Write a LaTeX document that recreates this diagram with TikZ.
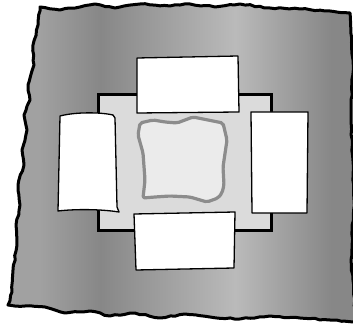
\documentclass[tikz,border=0pt]{standalone}
\usetikzlibrary{decorations.pathmorphing}

\definecolor{sheetLt}{gray}{0.63}
\definecolor{sheetDk}{gray}{0.53}
\definecolor{sheetHi}{gray}{0.73}
\definecolor{baseFill}{gray}{0.86}
\definecolor{coreFill}{gray}{0.92}
\definecolor{coreLine}{gray}{0.55}

% horizontal bands of the sheet (25bp..75bp spans the path)
\pgfdeclarehorizontalshading{sheetshade}{100bp}{%
  color(0bp)=(sheetLt); color(25bp)=(sheetLt); color(29.6bp)=(sheetLt);
  color(38.3bp)=(sheetDk); color(57.7bp)=(sheetHi); color(71.4bp)=(sheetDk);
  color(75bp)=(sheetDk); color(100bp)=(sheetDk)}

\begin{document}
\pgfmathsetseed{7}
\begin{tikzpicture}[
  x=1pt,y=-1pt,
  sheet/.style={draw=black,line width=3pt,shading=sheetshade,line join=round,
    decorate,decoration={random steps,segment length=5pt,amplitude=0.7pt}},
  base/.style={draw=black,line width=3pt,fill=baseFill},
  core/.style={draw=coreLine,line width=3.2pt,fill=coreFill,line join=round,rounded corners=2pt},
  panel/.style={draw=black,line width=1.3pt,fill=white,line join=round}
]
\useasboundingbox (0,0) rectangle (353,328);
\clip (0,0) rectangle (353,328);

% ---------- sheet ----------
\path[sheet] (40,7) -- (60,10) -- (80,7) -- (95,4) -- (115,8) -- (140,4) -- (170,6)
  -- (190,4) -- (215,7) -- (240,4) -- (270,8) -- (300,9) -- (330,11) -- (350,13)
  -- (353,60) -- (351,120) -- (354,200) -- (351,260) -- (356,322)
  -- (330,320) -- (300,318) -- (270,316) -- (240,319) -- (210,317) -- (185,314)
  -- (160,318) -- (135,313) -- (110,316) -- (90,311) -- (65,313) -- (45,307)
  -- (25,306) -- (8,305) -- (12,292) -- (13,270) -- (17,245) -- (16,225)
  -- (20,205) -- (18,185) -- (24,165) -- (22,150) -- (27,130) -- (24,115)
  -- (30,100) -- (28,85) -- (34,65) -- (33,45) -- (38,25) -- cycle;

% ---------- base and core ----------
\draw[base] (98,95) rectangle (271,231);
\draw[core] (140,123) -- (153,120) -- (165,122) -- (177,123) -- (193,117) -- (208,120)
  -- (223,123) -- (227,140) -- (223,167) -- (224,185) -- (222,193) -- (218,198)
  -- (207,202) -- (190,197) -- (170,196) -- (155,197) -- (143,198) -- (145,180)
  -- (143,153) -- (138,135) -- cycle;

% ---------- panels ----------
\draw[panel] (137,58) -- (238,56) -- (239,112) -- (137,113) -- cycle;
\draw[panel] (60,116) .. controls (75,112) and (100,112) .. (113,115)
  -- (115,118) -- (117,207) -- (119,212) .. controls (100,209) and (75,209) .. (58,211) -- cycle;
\draw[panel] (251,112) -- (308,112) -- (307,213) -- (252,213) -- cycle;
\draw[panel] (134,214) -- (235,212) -- (234,268) -- (136,270) -- cycle;

\end{tikzpicture}
\end{document}
